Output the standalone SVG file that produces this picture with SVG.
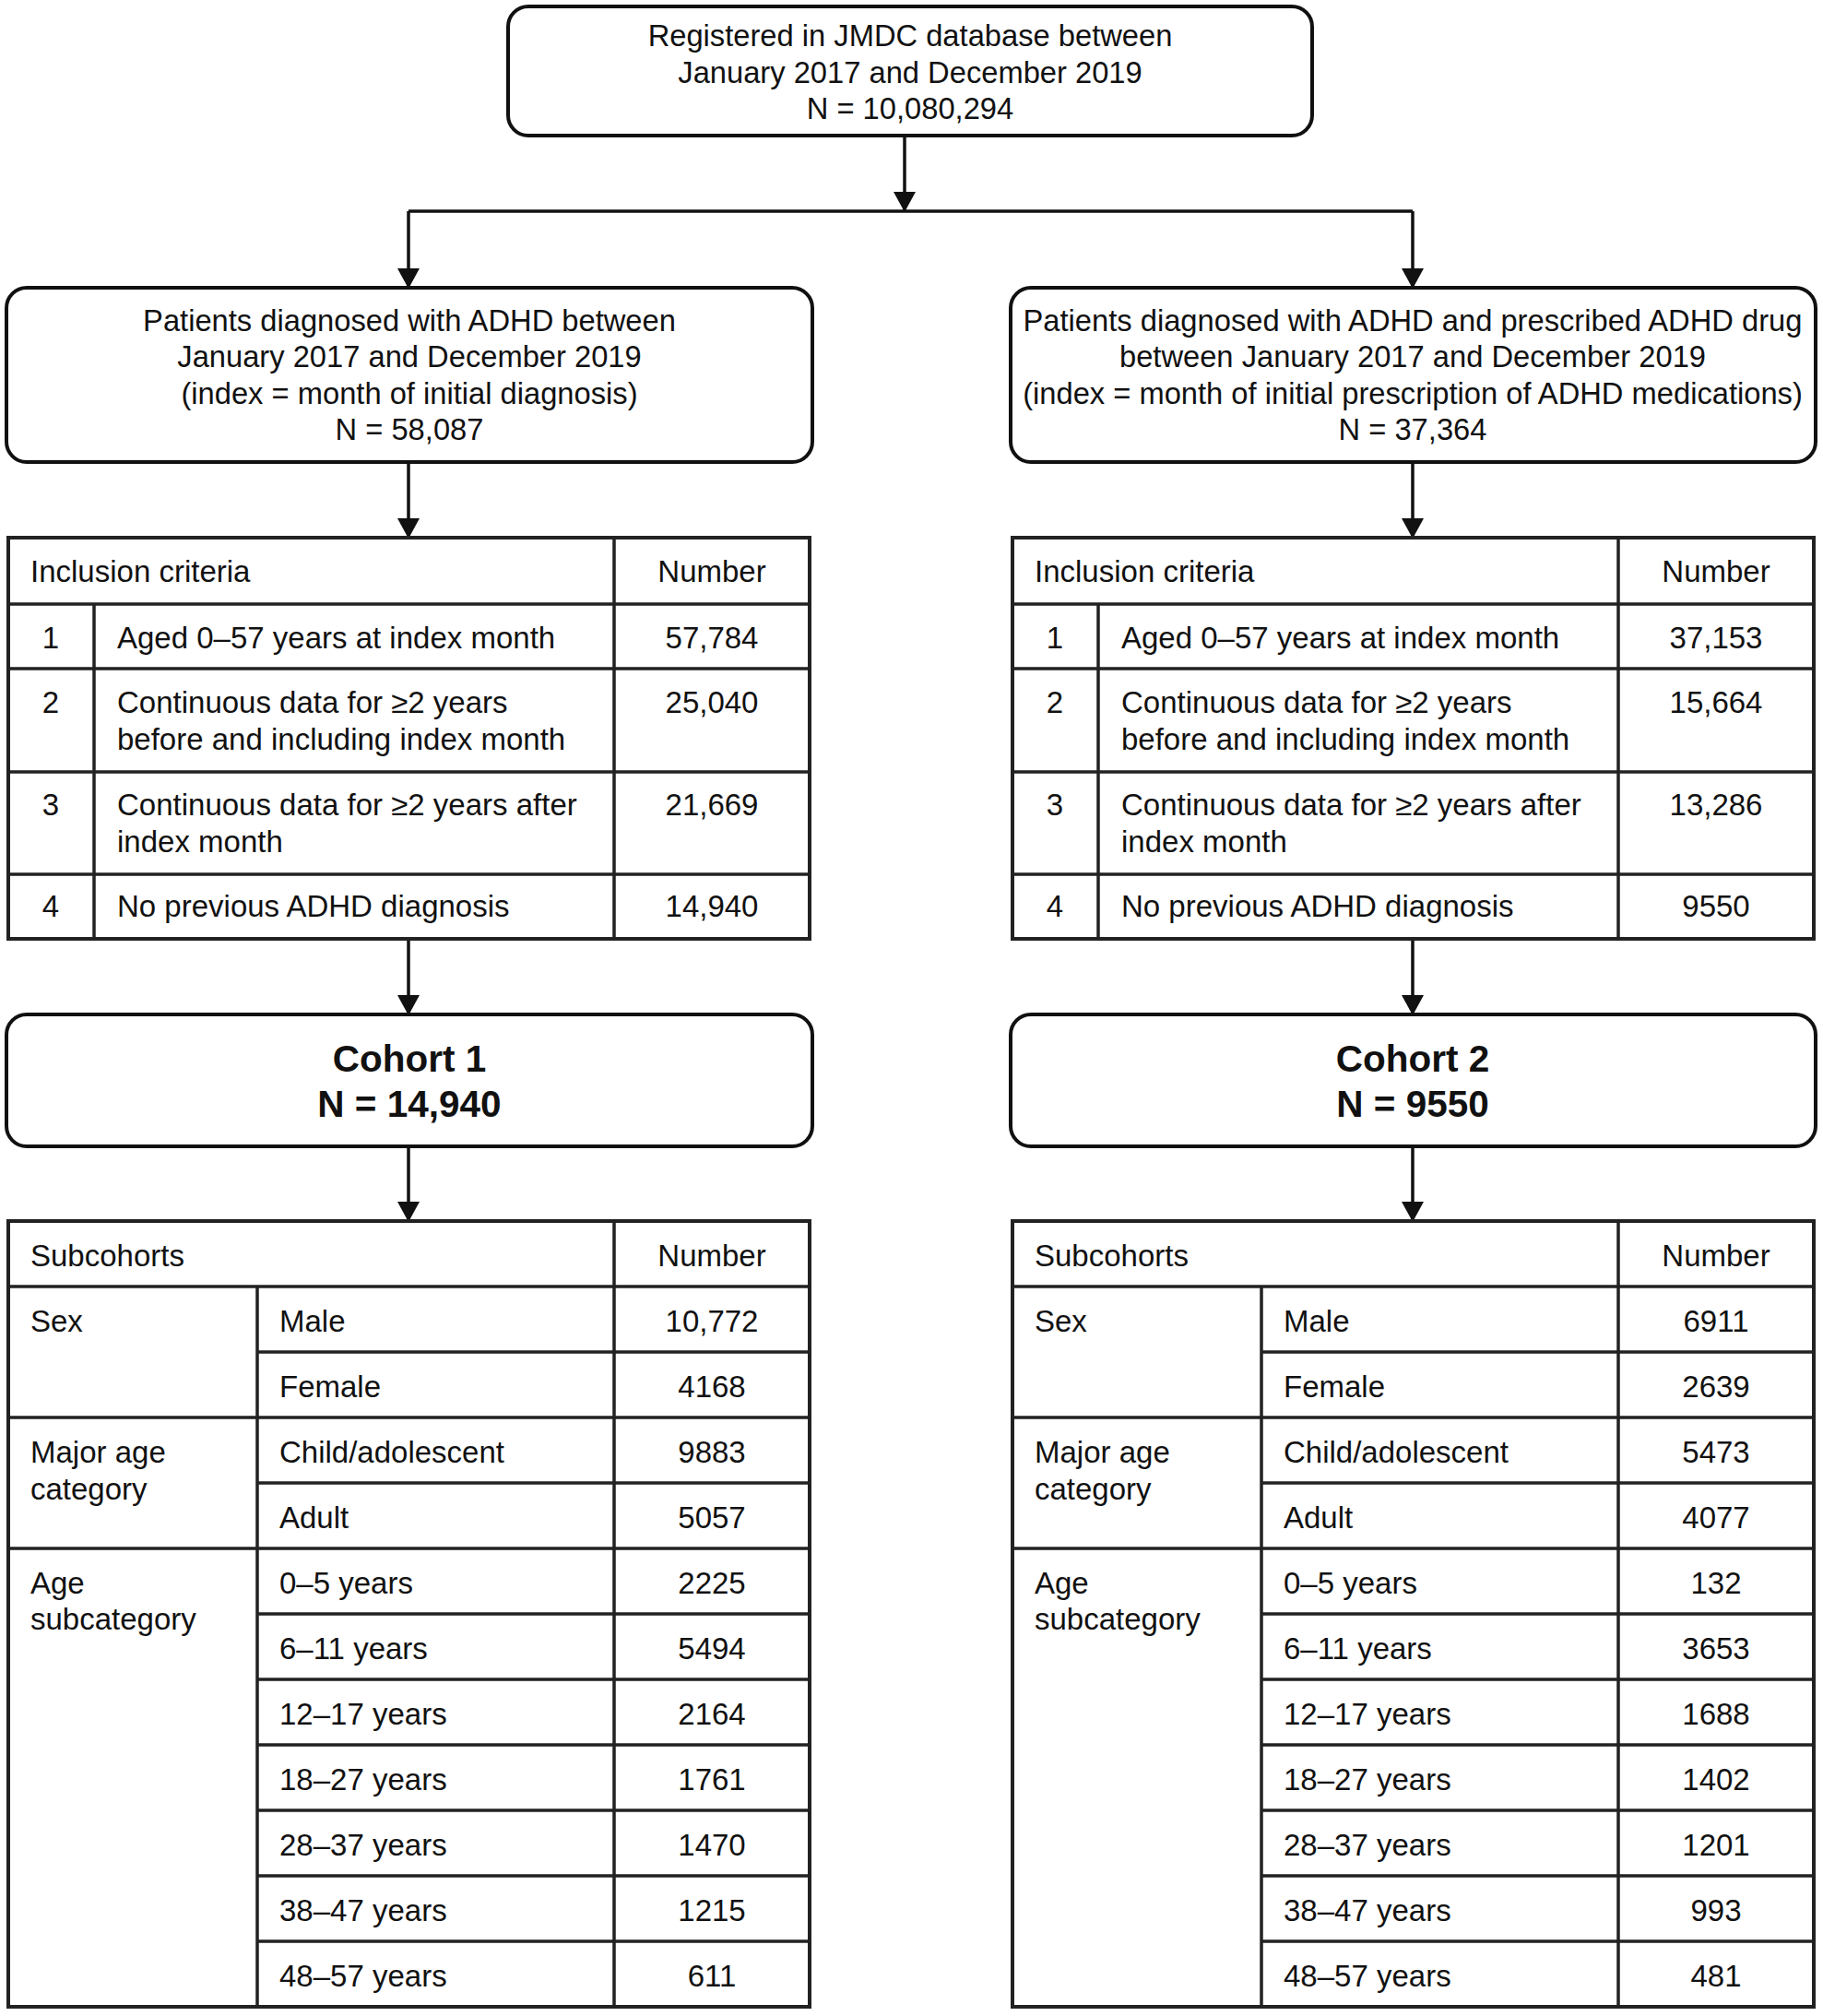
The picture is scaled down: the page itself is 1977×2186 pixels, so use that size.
<svg xmlns="http://www.w3.org/2000/svg" width="1977" height="2186" viewBox="0 0 1977 2186">
<defs>
<style>
text{font-family:"Liberation Sans",Arial,sans-serif;font-size:33px;fill:#111;}
.c{text-anchor:middle;}
.bt{font-size:32.7px;}
.b{font-weight:bold;font-size:40.5px;}
.box{fill:#fff;stroke:#111;stroke-width:4;}
.tbl{fill:#fff;stroke:#222;stroke-width:4;}
.ln{stroke:#222;stroke-width:3.5;fill:none;}
.con{stroke:#111;stroke-width:3.5;fill:none;}
</style>
<marker id="ad" markerUnits="userSpaceOnUse" markerWidth="24" markerHeight="22" viewBox="0 0 24 22" refX="12" refY="21" orient="0">
<path d="M0,0 L24,0 L12,22 Z" fill="#111"/>
</marker>
</defs>
<rect width="1977" height="2186" fill="#fff"/>

<g id="connectors">
<line class="con" x1="981" y1="148" x2="981" y2="229" marker-end="url(#ad)"/>
<line class="con" x1="443" y1="229" x2="1532" y2="229"/>
<line class="con" x1="443" y1="229" x2="443" y2="312" marker-end="url(#ad)"/>
<line class="con" x1="1532" y1="229" x2="1532" y2="312" marker-end="url(#ad)"/>
<line class="con" x1="443" y1="502" x2="443" y2="583" marker-end="url(#ad)"/>
<line class="con" x1="1532" y1="502" x2="1532" y2="583" marker-end="url(#ad)"/>
<line class="con" x1="443" y1="1019" x2="443" y2="1100" marker-end="url(#ad)"/>
<line class="con" x1="1532" y1="1019" x2="1532" y2="1100" marker-end="url(#ad)"/>
<line class="con" x1="443" y1="1244" x2="443" y2="1324" marker-end="url(#ad)"/>
<line class="con" x1="1532" y1="1244" x2="1532" y2="1324" marker-end="url(#ad)"/>
</g>

<g id="registered">
<rect class="box" x="551" y="7" width="872" height="140" rx="22"/>
<text class="c bt" x="987" y="50">Registered in JMDC database between</text>
<text class="c bt" x="987" y="90">January 2017 and December 2019</text>
<text class="c bt" x="987" y="129">N = 10,080,294</text>
</g>

<g id="adhd-diagnosed">
<rect class="box" x="7" y="312" width="874" height="189" rx="22"/>
<text class="c bt" x="444" y="359">Patients diagnosed with ADHD between</text>
<text class="c bt" x="444" y="398">January 2017 and December 2019</text>
<text class="c bt" x="444" y="438">(index = month of initial diagnosis)</text>
<text class="c bt" x="444" y="477">N = 58,087</text>
</g>

<g id="adhd-prescribed">
<rect class="box" x="1096" y="312" width="873" height="189" rx="22"/>
<text class="c bt" x="1532" y="359">Patients diagnosed with ADHD and prescribed ADHD drug</text>
<text class="c bt" x="1532" y="398">between January 2017 and December 2019</text>
<text class="c bt" x="1532" y="438">(index = month of initial prescription of ADHD medications)</text>
<text class="c bt" x="1532" y="477">N = 37,364</text>
</g>

<g id="criteria1">
<rect class="tbl" x="9" y="583" width="869" height="435"/>
<path class="ln" d="M9,655H878M9,725H878M9,837H878M9,948H878M666,583V1018M102,655V1018"/>
<text x="33" y="631">Inclusion criteria</text>
<text class="c" x="772" y="631">Number</text>
<text class="c" x="55" y="703">1</text>
<text x="127" y="703">Aged 0–57 years at index month</text>
<text class="c" x="772" y="703">57,784</text>
<text class="c" x="55" y="773">2</text>
<text x="127" y="773">Continuous data for ≥2 years</text>
<text x="127" y="813">before and including index month</text>
<text class="c" x="772" y="773">25,040</text>
<text class="c" x="55" y="884">3</text>
<text x="127" y="884">Continuous data for ≥2 years after</text>
<text x="127" y="924">index month</text>
<text class="c" x="772" y="884">21,669</text>
<text class="c" x="55" y="994">4</text>
<text x="127" y="994">No previous ADHD diagnosis</text>
<text class="c" x="772" y="994">14,940</text>
</g>

<g id="criteria2">
<rect class="tbl" x="1098" y="583" width="869" height="435"/>
<path class="ln" d="M1098,655H1967M1098,725H1967M1098,837H1967M1098,948H1967M1755,583V1018M1191,655V1018"/>
<text x="1122" y="631">Inclusion criteria</text>
<text class="c" x="1861" y="631">Number</text>
<text class="c" x="1144" y="703">1</text>
<text x="1216" y="703">Aged 0–57 years at index month</text>
<text class="c" x="1861" y="703">37,153</text>
<text class="c" x="1144" y="773">2</text>
<text x="1216" y="773">Continuous data for ≥2 years</text>
<text x="1216" y="813">before and including index month</text>
<text class="c" x="1861" y="773">15,664</text>
<text class="c" x="1144" y="884">3</text>
<text x="1216" y="884">Continuous data for ≥2 years after</text>
<text x="1216" y="924">index month</text>
<text class="c" x="1861" y="884">13,286</text>
<text class="c" x="1144" y="994">4</text>
<text x="1216" y="994">No previous ADHD diagnosis</text>
<text class="c" x="1861" y="994">9550</text>
</g>

<g id="cohort1">
<rect class="box" x="7" y="1100" width="874" height="143" rx="22"/>
<text class="c b" x="444" y="1162">Cohort 1</text>
<text class="c b" x="444" y="1211">N = 14,940</text>
</g>

<g id="cohort2">
<rect class="box" x="1096" y="1100" width="873" height="143" rx="22"/>
<text class="c b" x="1532" y="1162">Cohort 2</text>
<text class="c b" x="1532" y="1211">N = 9550</text>
</g>

<g id="subcohorts1">
<rect class="tbl" x="9" y="1324" width="869" height="852"/>
<path class="ln" d="M9,1395H878M9,1537H878M9,1679H878M279,1466H878M279,1608H878M279,1750H878M279,1821H878M279,1892H878M279,1963H878M279,2034H878M279,2105H878M666,1324V2176M279,1395V2176"/>
<text x="33" y="1373">Subcohorts</text>
<text class="c" x="772" y="1373">Number</text>
<text x="33" y="1444">Sex</text>
<text x="33" y="1586">Major age</text>
<text x="33" y="1626">category</text>
<text x="33" y="1728">Age</text>
<text x="33" y="1767">subcategory</text>
<text x="303" y="1444">Male</text>
<text x="303" y="1515">Female</text>
<text x="303" y="1586">Child/adolescent</text>
<text x="303" y="1657">Adult</text>
<text x="303" y="1728">0–5 years</text>
<text x="303" y="1799">6–11 years</text>
<text x="303" y="1870">12–17 years</text>
<text x="303" y="1941">18–27 years</text>
<text x="303" y="2012">28–37 years</text>
<text x="303" y="2083">38–47 years</text>
<text x="303" y="2154">48–57 years</text>
<text class="c" x="772" y="1444">10,772</text>
<text class="c" x="772" y="1515">4168</text>
<text class="c" x="772" y="1586">9883</text>
<text class="c" x="772" y="1657">5057</text>
<text class="c" x="772" y="1728">2225</text>
<text class="c" x="772" y="1799">5494</text>
<text class="c" x="772" y="1870">2164</text>
<text class="c" x="772" y="1941">1761</text>
<text class="c" x="772" y="2012">1470</text>
<text class="c" x="772" y="2083">1215</text>
<text class="c" x="772" y="2154">611</text>
</g>

<g id="subcohorts2">
<rect class="tbl" x="1098" y="1324" width="869" height="852"/>
<path class="ln" d="M1098,1395H1967M1098,1537H1967M1098,1679H1967M1368,1466H1967M1368,1608H1967M1368,1750H1967M1368,1821H1967M1368,1892H1967M1368,1963H1967M1368,2034H1967M1368,2105H1967M1755,1324V2176M1368,1395V2176"/>
<text x="1122" y="1373">Subcohorts</text>
<text class="c" x="1861" y="1373">Number</text>
<text x="1122" y="1444">Sex</text>
<text x="1122" y="1586">Major age</text>
<text x="1122" y="1626">category</text>
<text x="1122" y="1728">Age</text>
<text x="1122" y="1767">subcategory</text>
<text x="1392" y="1444">Male</text>
<text x="1392" y="1515">Female</text>
<text x="1392" y="1586">Child/adolescent</text>
<text x="1392" y="1657">Adult</text>
<text x="1392" y="1728">0–5 years</text>
<text x="1392" y="1799">6–11 years</text>
<text x="1392" y="1870">12–17 years</text>
<text x="1392" y="1941">18–27 years</text>
<text x="1392" y="2012">28–37 years</text>
<text x="1392" y="2083">38–47 years</text>
<text x="1392" y="2154">48–57 years</text>
<text class="c" x="1861" y="1444">6911</text>
<text class="c" x="1861" y="1515">2639</text>
<text class="c" x="1861" y="1586">5473</text>
<text class="c" x="1861" y="1657">4077</text>
<text class="c" x="1861" y="1728">132</text>
<text class="c" x="1861" y="1799">3653</text>
<text class="c" x="1861" y="1870">1688</text>
<text class="c" x="1861" y="1941">1402</text>
<text class="c" x="1861" y="2012">1201</text>
<text class="c" x="1861" y="2083">993</text>
<text class="c" x="1861" y="2154">481</text>
</g>
</svg>
